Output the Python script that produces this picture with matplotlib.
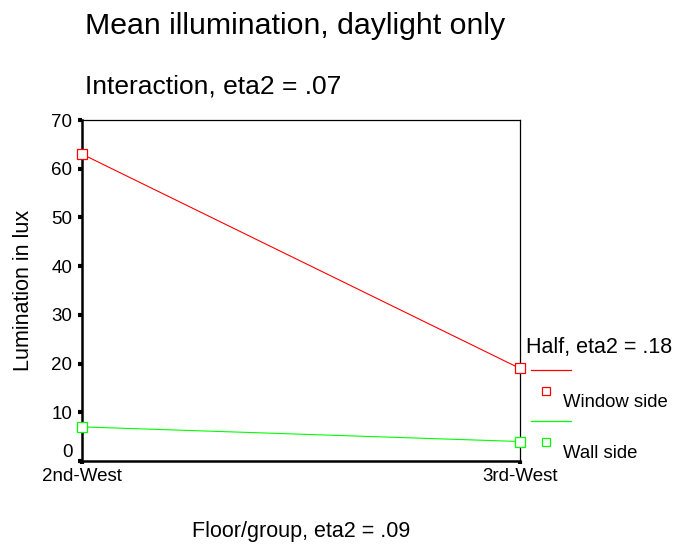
import matplotlib
matplotlib.use('Agg')
import matplotlib.pyplot as plt
from matplotlib.lines import Line2D

plt.rcParams['font.family'] = ['Liberation Sans', 'DejaVu Sans']

floors = ['2nd-West', '3rd-West']
window_side = [63, 19]
wall_side = [7, 4]
yticks = [0, 10, 20, 30, 40, 50, 60, 70]

red = '#FF0000'
green = '#00FF00'

W, H = 688, 546
fig = plt.figure(figsize=(W / 100, H / 100), dpi=100)
ax = fig.add_axes([82 / W, 1 - 461 / H, 438 / W, 341 / H])

x = list(range(len(floors)))
ax.plot(x, window_side, color=red, lw=0.8, marker='s', ms=6.5,
        mfc='white', mec=red, mew=0.9, clip_on=False, zorder=5)
ax.plot(x, wall_side, color=green, lw=0.8, marker='s', ms=6.5,
        mfc='white', mec=green, mew=0.9, clip_on=False, zorder=5)

ax.set_xlim(0, 1)
ax.set_ylim(0, 70)
ax.set_xticks(x)
ax.set_xticklabels(floors, fontsize=13.5)
ax.set_yticks(yticks)
ax.set_yticklabels([str(v) for v in yticks], fontsize=13.5)
ax.get_yticklabels()[0].set_va('bottom')
ax.tick_params(axis='y', direction='out', length=3, width=3, pad=4)
ax.tick_params(axis='x', direction='out', length=2, width=3, pad=3)
for side in ['left', 'bottom']:
    ax.spines[side].set_linewidth(1.8)
for side in ['top', 'right']:
    ax.spines[side].set_linewidth(0.9)

fig.text(24 / W, 1 - 290 / H, 'Lumination in lux', fontsize=15.5,
         rotation=90, va='center', ha='center')
fig.text(85 / W, 1 - 34 / H, 'Mean illumination, daylight only',
         fontsize=21.8, va='baseline', ha='left')
fig.text(85 / W, 1 - 93 / H, 'Interaction, eta2 = .07',
         fontsize=19, va='baseline', ha='left')
fig.text(301 / W, 1 - 537 / H, 'Floor/group, eta2 = .09',
         fontsize=15.5, va='baseline', ha='center')

# legend block on the right, drawn by hand to keep the stacked layout
fig.text(526 / W, 1 - 353 / H, 'Half, eta2 = .18',
         fontsize=15.5, va='baseline', ha='left')
entries = [('Window side', red, 370), ('Wall side', green, 421)]
for name, col, ypx in entries:
    fig.add_artist(Line2D([531 / W, 571 / W], [1 - ypx / H] * 2,
                          color=col, lw=0.9))
    fig.add_artist(Line2D([546 / W], [1 - (ypx + 21) / H], marker='s',
                          ms=6, mfc='white', mec=col, mew=0.9, ls='none'))
    fig.text(563 / W, 1 - (ypx + 37) / H, name,
             fontsize=13.3, va='baseline', ha='left')

fig.savefig('out.png', dpi=100)
